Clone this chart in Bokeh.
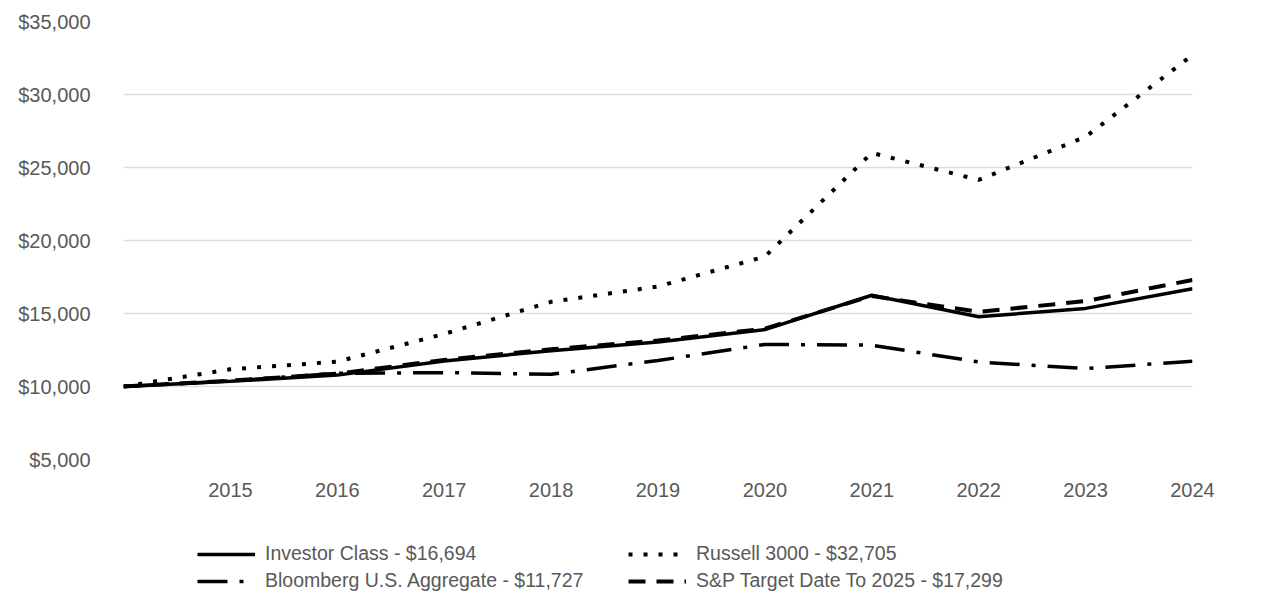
from bokeh.plotting import figure
from bokeh.models import Legend, LegendItem, FixedTicker, Range1d, NumeralTickFormatter
from bokeh.layouts import column
from bokeh.embed import file_html
from bokeh.resources import INLINE

years = [2014, 2015, 2016, 2017, 2018, 2019, 2020, 2021, 2022, 2023, 2024]
investor = [10000, 10360, 10780, 11750, 12450, 13050, 13900, 16250, 14780, 15350, 16694]
russell = [10000, 11180, 11700, 13600, 15800, 16850, 18900, 26000, 24150, 27100, 32705]
bloomberg = [10000, 10380, 10900, 10950, 10840, 11780, 12880, 12830, 11680, 11230, 11727]
sp_target = [10000, 10400, 10880, 11820, 12550, 13150, 13960, 16200, 15110, 15850, 17299]

x_ticks = [2015, 2016, 2017, 2018, 2019, 2020, 2021, 2022, 2023, 2024]
y_ticks = [5000, 10000, 15000, 20000, 25000, 30000, 35000]

labels = ["Investor Class - $16,694", "Russell 3000 - $32,705",
          "Bloomberg U.S. Aggregate - $11,727", "S&P Target Date To 2025 - $17,299"]

FONT = "Liberation Sans"
TXT = "#595959"

styles = [dict(line_width=3.5),
          dict(line_width=4, line_dash="4 11"),
          dict(line_width=3.5, line_dash="30 12 4 12"),
          dict(line_width=4, line_dash="17 11")]
series = [investor, russell, bloomberg, sp_target]

p = figure(width=1270, height=510, output_backend="svg", toolbar_location=None,
           x_range=Range1d(2014, 2024), y_range=Range1d(5000, 35000),
           min_border_left=123, min_border_right=78, min_border_top=21, min_border_bottom=51)
p.outline_line_color = None
p.background_fill_color = "white"

for vals, st in zip(series, styles):
    p.line(years, vals, line_color="black", **st)

for ax in (p.xaxis[0], p.yaxis[0]):
    ax.axis_line_color = None
    ax.major_tick_line_color = None
    ax.minor_tick_line_color = None
    ax.major_label_text_font = FONT
    ax.major_label_text_font_size = "20px"
    ax.major_label_text_color = TXT

p.xaxis.ticker = FixedTicker(ticks=x_ticks)
p.xaxis.major_label_standoff = 17
p.yaxis.ticker = FixedTicker(ticks=y_ticks)
p.yaxis.formatter = NumeralTickFormatter(format="$0,0")
p.yaxis.major_label_standoff = 27

p.xgrid.grid_line_color = None
p.ygrid.grid_line_color = "#dedede"
p.ygrid.grid_line_width = 1.5

# legend panel below the chart (series drawn out of view, only legend visible)
lf = figure(width=1270, height=88, output_backend="svg", toolbar_location=None,
            x_range=Range1d(3000, 3001), y_range=Range1d(0, 1),
            x_axis_type=None, y_axis_type=None,
            min_border_left=0, min_border_right=0, min_border_top=0, min_border_bottom=0)
lf.outline_line_color = None
lf.xgrid.visible = False
lf.ygrid.visible = False
rends = []
for vals, st in zip(series, styles):
    rends.append(lf.line(years, vals, line_color="black", **st))

order = [0, 2, 1, 3]  # legend fills column by column
items = [LegendItem(label=labels[i], renderers=[rends[i]]) for i in order]

legend = Legend(items=items, ncols=2, location=(74, 4),
                glyph_width=58, glyph_height=20, label_standoff=10, spacing=0,
                label_width=363, label_height=27,
                padding=0, margin=0, border_line_color=None, background_fill_alpha=0,
                label_text_font=FONT, label_text_font_size="19.5px", label_text_color=TXT)
lf.add_layout(legend, "center")

layout = column(p, lf, spacing=0)
open("out.html", "w").write(file_html(layout, INLINE))
